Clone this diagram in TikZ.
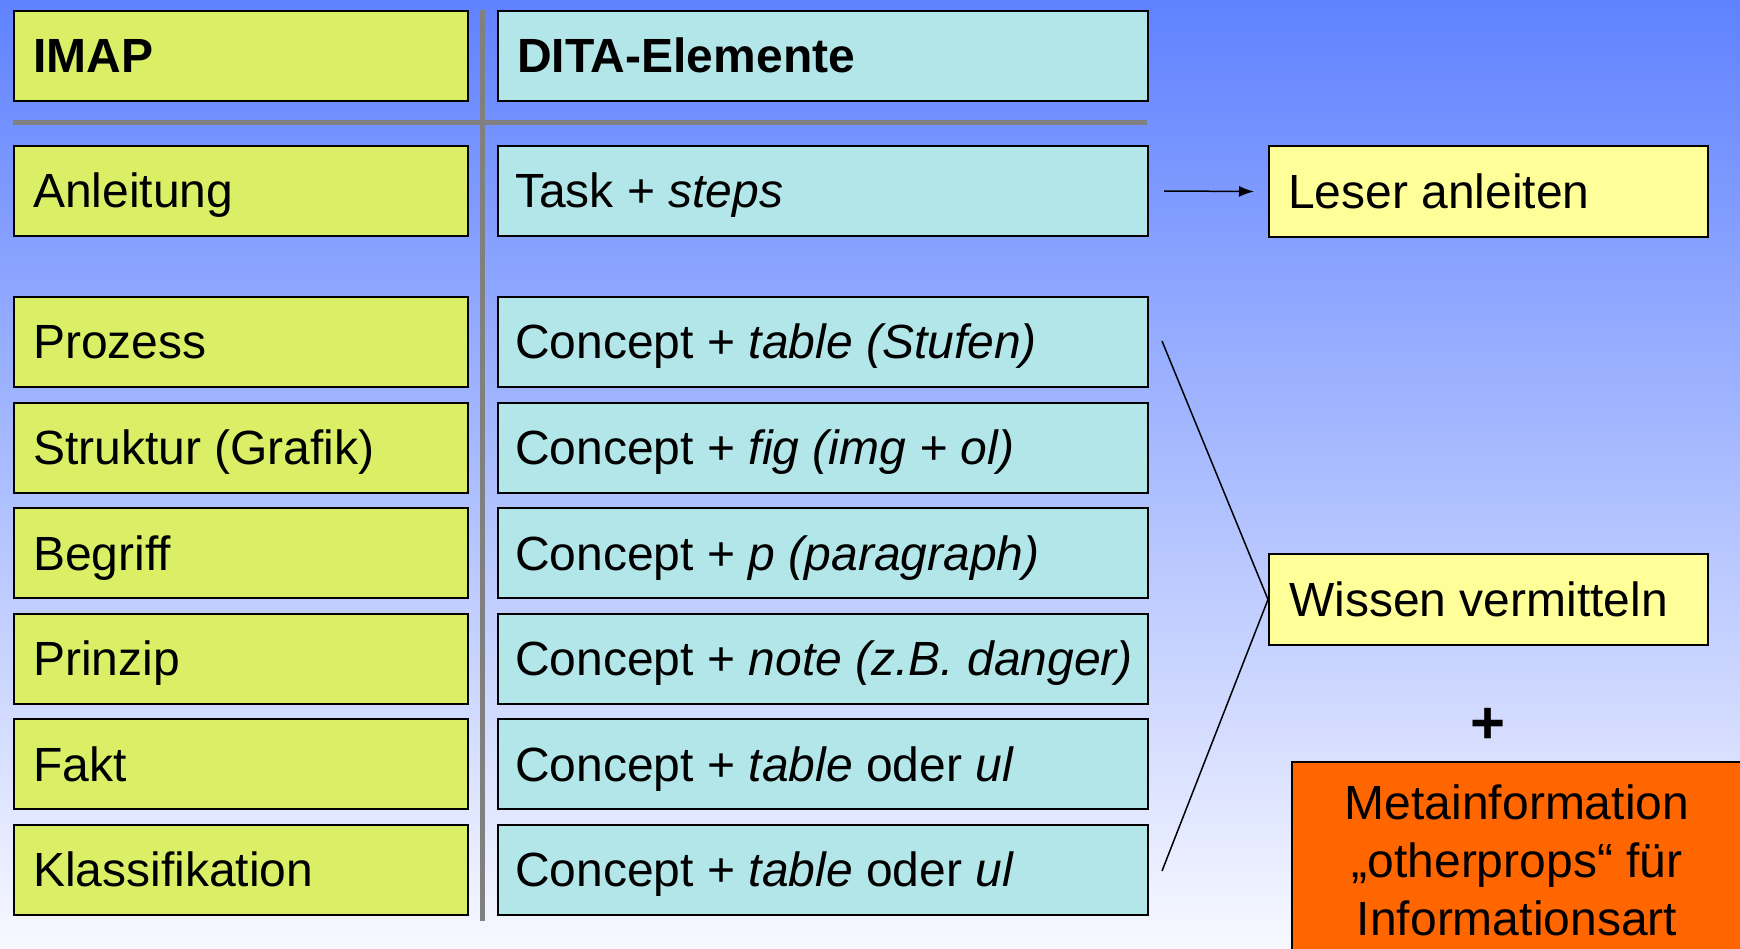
\documentclass[tikz,border=0pt]{standalone}
\usepackage{fontspec}
\setmainfont{Liberation Sans}
\usetikzlibrary{arrows.meta}
\definecolor{bgtop}{RGB}{95,130,255}
\definecolor{bgmid}{RGB}{182,195,255}
\definecolor{bgbot}{RGB}{247,248,255}
\definecolor{imapfill}{RGB}{219,239,102}
\definecolor{ditafill}{RGB}{179,230,232}
\definecolor{goalfill}{RGB}{255,255,153}
\definecolor{metafill}{RGB}{255,102,0}
\definecolor{sepgray}{RGB}{128,128,128}
\tikzset{
  cell/.style={draw=black, line width=2pt, minimum height=90pt, inner sep=0pt, anchor=north west},
  imapcell/.style={cell, fill=imapfill, minimum width=454pt},
  ditacell/.style={cell, fill=ditafill, minimum width=650pt},
  goalcell/.style={cell, fill=goalfill, minimum width=439pt, minimum height=91pt},
  txt/.style={anchor=base west, inner sep=0pt, font=\fontsize{48}{56}\selectfont},
  hdr/.style={txt, font=\fontsize{48}{56}\selectfont\bfseries},
  ctxt/.style={anchor=base, inner sep=0pt, font=\fontsize{48}{56}\selectfont},
  sep/.style={draw=sepgray, line width=5pt},
  conn/.style={draw=black, line width=1.5pt},
}
\begin{document}
\begin{tikzpicture}[x=1pt, y=-1pt]
\useasboundingbox (0,0) rectangle (1740,949);
\shade[top color=bgtop, middle color=bgmid, bottom color=bgbot] (0,0) rectangle (1740,949);

% separators
\coordinate (vtop) at (482.5,10);
\coordinate (vbot) at (482.5,921);
\coordinate (hl) at (13,123);
\coordinate (hr) at (1147,123);
\draw[sep] (vtop) -- (vbot);
\draw[sep] (hl) -- (hr);

% header
\node[imapcell] (imap) at (13,10) {};
\node[ditacell] (dita) at (497,10) {};
\node[hdr] at ([xshift=20pt, yshift=-17pt]imap.west) {IMAP};
\node[hdr] at ([xshift=20pt, yshift=-17pt]dita.west) {DITA-Elemente};

% rows
\foreach \n/\y/\a/\b in {
  r1/145/Anleitung/{Task + \textit{steps}},
  r2/296/Prozess/{Concept + \textit{table (Stufen)}},
  r3/401.5/Struktur (Grafik)/{Concept + \textit{fig (img + ol)}},
  r4/507/Begriff/{Concept + \textit{p (paragraph)}},
  r5/612.5/Prinzip/{Concept + \textit{note (z.B. danger)}},
  r6/718/Fakt/{Concept + \textit{table} oder \textit{ul}},
  r7/823.5/Klassifikation/{Concept + \textit{table} oder \textit{ul}}}{
  \node[imapcell] (\n a) at (13,\y) {};
  \node[ditacell] (\n b) at (497,\y) {};
  \node[txt] at ([xshift=20pt, yshift=-17pt]\n a.west) {\a};
  \node[txt] at ([xshift=18pt, yshift=-17pt]\n b.west) {\b};
}

% goals
\node[goalcell] (leser) at (1268,145) {};
\node[txt] at ([xshift=20pt, yshift=-17pt]leser.west) {Leser anleiten};
\node[goalcell] (wissen) at (1268,553) {};
\node[txt] at ([xshift=21pt, yshift=-17pt]wissen.west) {Wissen vermitteln};

% connectors
\draw[conn, -{Latex[length=15pt, width=11pt]}] ([xshift=15pt]r1b.east) -- ([xshift=-14pt]leser.west);
\coordinate (ctop) at (1162,341);
\coordinate (cbot) at (1162,871);
\draw[conn] (ctop) -- (wissen.west) -- (cbot);

% plus
\node[ctxt, font=\fontsize{60}{60}\selectfont\bfseries] (plus) at (1488,743) {+};

% meta box
\node[draw=black, line width=2pt, fill=metafill, anchor=north west, minimum width=460pt, minimum height=200pt, inner sep=0pt] (meta) at (1291,761) {};
\node[ctxt] at (1517,819) {Metainformation};
\node[ctxt] at (1517,877) {„otherprops“ für};
\node[ctxt] at (1517,935) {Informationsart};
\end{tikzpicture}
\end{document}
